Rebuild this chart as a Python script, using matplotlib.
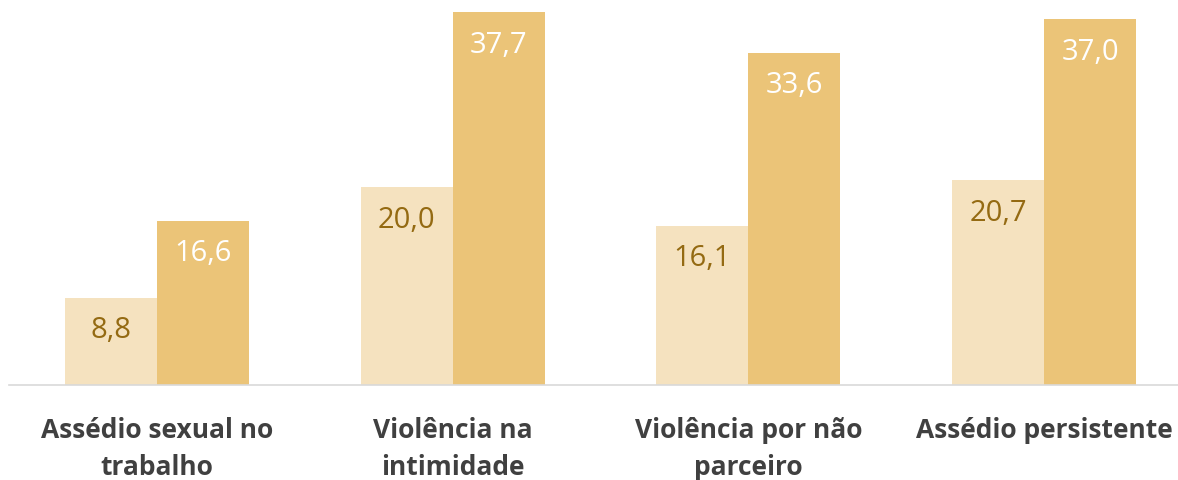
import matplotlib
matplotlib.use("Agg")
import matplotlib.pyplot as plt
import numpy as np

categories = ["Assédio sexual no\ntrabalho", "Violência na\nintimidade",
              "Violência por não\nparceiro", "Assédio persistente"]
series_a = [8.8, 20.0, 16.1, 20.7]
series_b = [16.6, 37.7, 33.6, 37.0]

light = "#F5E2BF"
dark = "#EBC478"
label_dark = "#946A12"

fig = plt.figure(figsize=(11.78, 4.80), dpi=100)
ax = fig.add_axes([9/1178, 1 - 385/480, 1183/1178, 385/480])

x = np.arange(len(categories))
w = 0.311
ba = ax.bar(x - w/2, series_a, w, color=light, edgecolor="none")
bb = ax.bar(x + w/2, series_b, w, color=dark, edgecolor="none")

ax.set_xlim(-0.5, len(categories) - 0.5)
ax.set_ylim(0, 38.93)

fmt = lambda v: f"{v:.1f}".replace(".", ",")
for bars, vals, col in ((ba, series_a, label_dark), (bb, series_b, "white")):
    for r, v in zip(bars, vals):
        ax.annotate(fmt(v), (r.get_x() + r.get_width()/2, v), xytext=(0, -33 * 72 / 100),
                    textcoords="offset points", ha="center", va="center",
                    fontsize=21, color=col, family="Open Sans")

for s in ["top", "right", "left"]:
    ax.spines[s].set_visible(False)
ax.spines["bottom"].set_color("#D9D9D9")
ax.spines["bottom"].set_linewidth(1.2)
ax.set_yticks([])
ax.set_xticks(x)
ax.set_xticklabels(categories, fontsize=19, fontweight="bold", color="#404040",
                   family="Open Sans", linespacing=1.5)
ax.tick_params(axis="x", length=0, pad=23)

fig.savefig("out.png", dpi=100)
